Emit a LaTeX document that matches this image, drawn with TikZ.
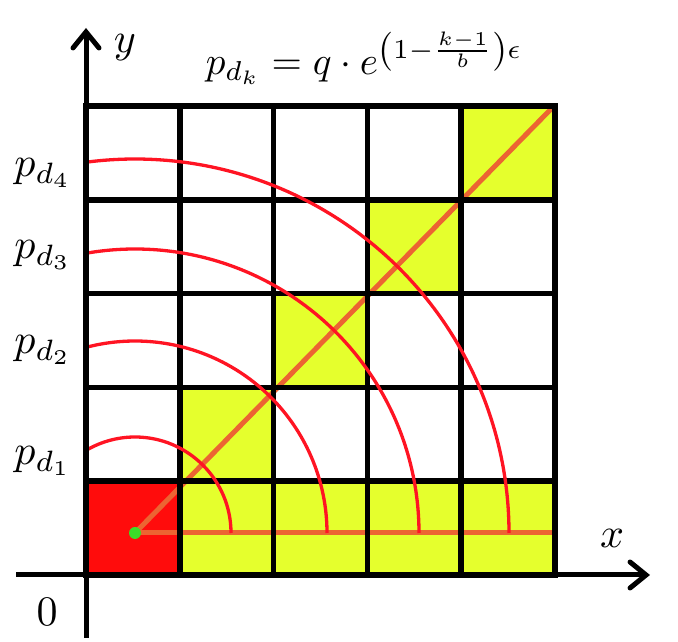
\documentclass[tikz,border=0pt]{standalone}
\usetikzlibrary{arrows.meta}
\definecolor{cellyellow}{RGB}{229,255,45}
\definecolor{cellred}{RGB}{255,12,12}
\definecolor{lineorange}{RGB}{236,100,50}
\definecolor{arcred}{RGB}{255,20,35}
\definecolor{dotgreen}{RGB}{60,220,40}
\begin{document}
\begin{tikzpicture}[x=1pt,y=1pt,
  gridline/.style={line width=5.5pt, black, line cap=rect},
  axisline/.style={line width=5pt, black, -{Straight Barb[length=16pt,width=26pt,line width=5pt,line cap=round]}},
  yellowcell/.style={fill=cellyellow},
  redcell/.style={fill=cellred},
  orangeline/.style={line width=5pt, lineorange},
  radius arc/.style={line width=3.3pt, arcred},
  lbl/.style={font=\normalsize, scale=4.2, inner sep=0pt},
  greendot/.style={circle, fill=dotgreen, minimum size=12pt, inner sep=0pt},
]
\useasboundingbox (0,0) rectangle (678,642);
\def\cs{93.8}
% cells
\fill[redcell] (86,67) rectangle (179.8,160.8);
\fill[yellowcell] (179.8,67) rectangle (555,160.8);
\fill[yellowcell] (179.8,160.8) rectangle (273.6,254.6);
\fill[yellowcell] (273.6,254.6) rectangle (367.4,348.4);
\fill[yellowcell] (367.4,348.4) rectangle (461.2,442.2);
\fill[yellowcell] (461.2,442.2) rectangle (555,536);
% centre and ends
\coordinate (o) at (135,109);
\coordinate (hend) at (555,109);
\coordinate (dend) at (553,535);
\draw[orangeline] (o) -- (hend);
\draw[orangeline] (o) -- (dend);
% grid
\foreach \i in {0,...,5}{
  \draw[gridline] ({86+\cs*\i},67) -- ({86+\cs*\i},536);
  \draw[gridline] (86,{67+\cs*\i}) -- (555,{67+\cs*\i});
}
% arcs
\draw[radius arc] (o) ++(0:96) arc[start angle=0, end angle=120.7, radius=96];
\draw[radius arc] (o) ++(0:192) arc[start angle=0, end angle=104.8, radius=192];
\draw[radius arc] (o) ++(0:284) arc[start angle=0, end angle=99.9, radius=284];
\draw[radius arc] (o) ++(0:374) arc[start angle=0, end angle=97.5, radius=374];
% axes
\coordinate (xa0) at (16,67);
\coordinate (xa1) at (650,67);
\coordinate (ya0) at (86,4);
\coordinate (ya1) at (86,614);
\draw[axisline] (xa0) -- (xa1);
\draw[axisline] (ya0) -- (ya1);
\node[greendot] (dot) at (o) {};
% labels
\node[lbl] (ylab) at (125,594) {$y$};
\node[lbl] (xlab) at (612,104) {$x$};
\node[lbl] (zero) at (47,30) {$0$};
\node[lbl] (p4) at (43,469) {$p_{d_4}$};
\node[lbl] (p3) at (43,387) {$p_{d_3}$};
\node[lbl] (p2) at (43,292) {$p_{d_2}$};
\node[lbl] (p1) at (43,181) {$p_{d_1}$};
\node[lbl, scale=0.93, anchor=base west] (formula) at (205,567) {$p_{d_k}=q\cdot e^{\left(1-\frac{k-1}{b}\right)\epsilon}$};
\end{tikzpicture}
\end{document}
